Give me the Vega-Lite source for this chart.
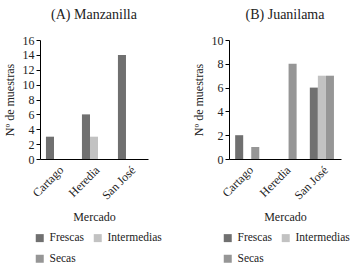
{
  "$schema": "https://vega.github.io/schema/vega-lite/v6.json",
  "padding": {"left": 3, "top": 8, "right": 2, "bottom": 2},
  "background": "white",
  "bounds": "flush",
  "spacing": 81,
  "config": {
    "font": "Liberation Serif",
    "view": {"stroke": null},
    "title": {"font": "Liberation Serif", "fontSize": 14, "fontWeight": "normal", "color": "#222", "offset": 12},
    "axis": {"labelFont": "Liberation Serif", "titleFont": "Liberation Serif", "labelFontSize": 12, "titleFontSize": 12, "titleFontWeight": "normal", "labelColor": "#222", "titleColor": "#222", "domainColor": "#000", "tickColor": "#000", "grid": false},
    "legend": {"labelFont": "Liberation Serif", "labelFontSize": 11.5, "labelColor": "#222", "symbolType": "square", "symbolSize": 64, "symbolStrokeWidth": 0, "columns": 2, "orient": "none", "direction": "horizontal", "columnPadding": 8, "rowPadding": 8, "labelOffset": 4}
  },
  "resolve": {"legend": {"color": "independent"}},
  "hconcat": [
    {
      "title": "(A) Manzanilla",
      "width": 108,
      "height": 119,
      "data": {"values": [
        {"mercado": "Cartago", "tipo": "Frescas", "n": 3},
        {"mercado": "Heredia", "tipo": "Frescas", "n": 6},
        {"mercado": "Heredia", "tipo": "Intermedias", "n": 3},
        {"mercado": "San José", "tipo": "Frescas", "n": 14}
      ]},
      "mark": {"type": "bar"},
      "encoding": {
        "x": {"field": "mercado", "type": "nominal", "title": "Mercado", "sort": ["Cartago", "Heredia", "San José"], "scale": {"domain": ["Cartago", "Heredia", "San José"], "paddingInner": 0.33, "paddingOuter": 0.165}, "axis": {"labelAngle": -45, "ticks": false, "labelPadding": 5, "titlePadding": 10}},
        "xOffset": {"field": "tipo", "type": "nominal", "scale": {"domain": ["Frescas", "Intermedias", "Secas"], "paddingInner": 0, "paddingOuter": 0}},
        "y": {"field": "n", "type": "quantitative", "title": "Nº de muestras", "scale": {"domain": [0, 16]}, "axis": {"values": [0, 2, 4, 6, 8, 10, 12, 14, 16], "tickSize": 4, "titlePadding": 6}},
        "color": {"field": "tipo", "type": "nominal", "title": null, "scale": {"domain": ["Frescas", "Intermedias", "Secas"], "range": ["#707070", "#c2c2c2", "#969696"]}, "legend": {"legendX": -6, "legendY": 192}}
      }
    },
    {
      "title": "(B) Juanilama",
      "width": 112,
      "height": 119,
      "data": {"values": [
        {"mercado": "Cartago", "tipo": "Frescas", "n": 2},
        {"mercado": "Cartago", "tipo": "Secas", "n": 1},
        {"mercado": "Heredia", "tipo": "Secas", "n": 8},
        {"mercado": "San José", "tipo": "Frescas", "n": 6},
        {"mercado": "San José", "tipo": "Intermedias", "n": 7},
        {"mercado": "San José", "tipo": "Secas", "n": 7}
      ]},
      "mark": {"type": "bar"},
      "encoding": {
        "x": {"field": "mercado", "type": "nominal", "title": "Mercado", "sort": ["Cartago", "Heredia", "San José"], "scale": {"domain": ["Cartago", "Heredia", "San José"], "paddingInner": 0.33, "paddingOuter": 0.165}, "axis": {"labelAngle": -45, "ticks": false, "labelPadding": 5, "titlePadding": 10}},
        "xOffset": {"field": "tipo", "type": "nominal", "scale": {"domain": ["Frescas", "Intermedias", "Secas"], "paddingInner": 0, "paddingOuter": 0}},
        "y": {"field": "n", "type": "quantitative", "title": "Nº de muestras", "scale": {"domain": [0, 10]}, "axis": {"values": [0, 2, 4, 6, 8, 10], "tickSize": 4, "titlePadding": 6}},
        "color": {"field": "tipo", "type": "nominal", "title": null, "scale": {"domain": ["Frescas", "Intermedias", "Secas"], "range": ["#707070", "#c2c2c2", "#969696"]}, "legend": {"legendX": -7, "legendY": 192}}
      }
    }
  ]
}
